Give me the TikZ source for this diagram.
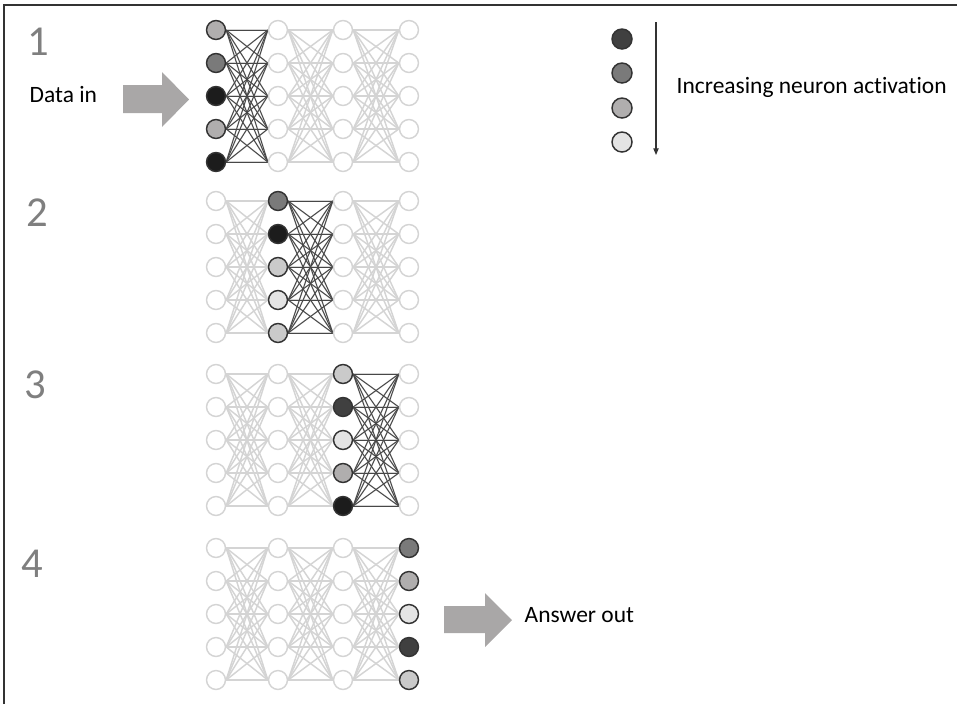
\documentclass[tikz,border=0pt]{standalone}
\usepackage{fontspec}
\setmainfont{Carlito}[Ligatures=CommonOff]
\usetikzlibrary{arrows.meta}
\pgfdeclarelayer{background}
\pgfsetlayers{background,main}

% activation shades, darkest first
\definecolor{actA}{HTML}{1C1C1C}
\definecolor{actB}{HTML}{404040}
\definecolor{actC}{HTML}{7A7A7A}
\definecolor{actD}{HTML}{B0AEAE}
\definecolor{actE}{HTML}{CACACA}
\definecolor{actF}{HTML}{E4E4E4}
\definecolor{idleline}{HTML}{D4D4D4}
\definecolor{liveline}{HTML}{333333}
\definecolor{bigarrow}{HTML}{A9A7A7}
\definecolor{stepnum}{HTML}{7F7F7F}

\begin{document}
\begin{tikzpicture}[x=0.75pt,y=-0.75pt,
  neuron/.style={circle,draw=idleline,fill=white,line width=1.1pt,
                 minimum size=14.2pt,inner sep=0pt},
  activeneuron/.style={neuron,draw=liveline},
  idlelink/.style={draw=idleline,line width=1.1pt},
  livelink/.style={draw=liveline!90!white,line width=0.7pt},
  stepno/.style={text=stepnum,font=\fontsize{32}{36}\selectfont,anchor=base},
  caption/.style={font=\fontsize{17.6}{20}\selectfont,anchor=base west},
  fatarrow/.style={fill=bigarrow}]

\useasboundingbox (0,0) rectangle (957,704);

% frame (top and left edges)
\draw[line width=1.2pt,draw=liveline] (4,704) -- (4,5) -- (957,5);

% four snapshots of the same network: panel / top row y / active layer / shades
\foreach \p/\y/\a/\shades in {
    1/30/1/{actD,actC,actA,actD,actA},
    2/201/2/{actC,actA,actE,actF,actE},
    3/374/3/{actE,actB,actF,actD,actA},
    4/548/4/{actC,actD,actF,actB,actE}} {
  % idle neurons
  \foreach \c/\x in {1/216,2/278,3/343,4/409} {
    \ifnum\c=\a\else
      \foreach \r in {1,...,5}
        \node[neuron] (n\p-\c-\r) at (\x,{\y+33*(\r-1)}) {};
    \fi
  }
  % active layer
  \pgfmathsetmacro\ax{{216,278,343,409}[\a-1]}
  \foreach \f [count=\r] in \shades
    \node[activeneuron,fill=\f] (n\p-\a-\r) at (\ax,{\y+33*(\r-1)}) {};
  % connections
  \begin{pgfonlayer}{background}
    \foreach \c in {1,2,3} {
      \pgfmathtruncatemacro\d{\c+1}
      \foreach \i in {1,...,5}
        \foreach \j in {1,...,5}
          \draw[idlelink] (n\p-\c-\i.east) -- (n\p-\d-\j.west);
    }
    \ifnum\a<4
      \pgfmathtruncatemacro\b{\a+1}
      \foreach \i in {1,...,5}
        \foreach \j in {1,...,5}
          \draw[livelink] (n\p-\a-\i.east) -- (n\p-\b-\j.west);
    \fi
  \end{pgfonlayer}
}

% step numbers
\node[stepno] (s1) at (38.5,55) {1};
\node[stepno] (s2) at (37.5,226) {2};
\node[stepno] (s3) at (35,398) {3};
\node[stepno] (s4) at (32.5,577) {4};

% input
\node[caption] (datain) at (25,102) {Data in};
\fill[fatarrow] (123,85) -- (162,85) -- (162,72) -- (189,99.5) -- (162,127)
  -- (162,113) -- (123,113) -- cycle;

% output
\fill[fatarrow] (444,606) -- (485,606) -- (485,593) -- (512,620) -- (485,647)
  -- (485,633) -- (444,633) -- cycle;
\node[caption] (answerout) at (520,622) {Answer out};

% legend
\node[activeneuron,fill=actB,minimum size=15pt] (leg1) at (622,39) {};
\node[activeneuron,fill=actC,minimum size=15pt] (leg2) at (622,73) {};
\node[activeneuron,fill=actD,minimum size=15pt] (leg3) at (622,108) {};
\node[activeneuron,fill=actF,minimum size=15pt] (leg4) at (622,142) {};
\coordinate (legtop) at (656,22);
\coordinate (legbot) at (656,155);
\draw[draw=liveline,line width=0.8pt,-{Triangle[length=5pt,width=4pt]}]
  (legtop) -- (legbot);
\node[caption] (legtext) at (672,93) {Increasing neuron activation};

\end{tikzpicture}
\end{document}
